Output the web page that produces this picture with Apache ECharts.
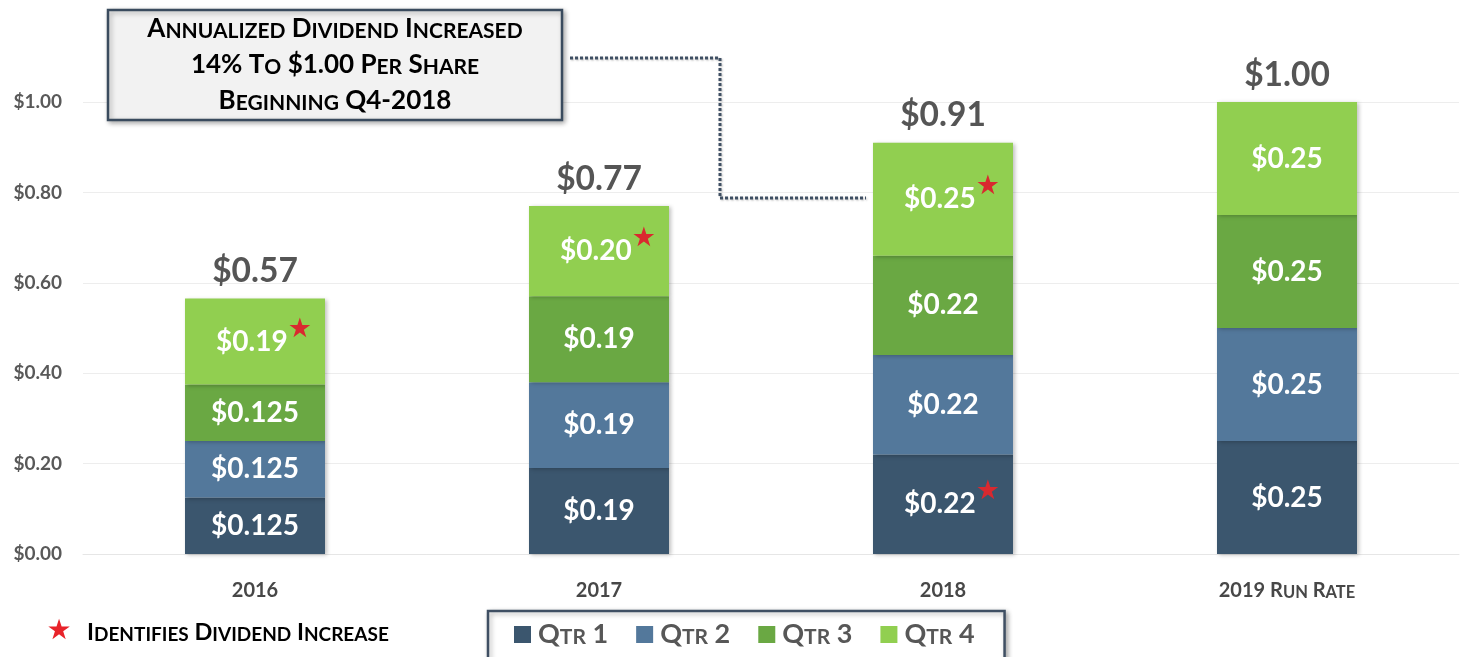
<!DOCTYPE html>
<html>
<head>
<meta charset="utf-8">
<script src="https://cdn.jsdelivr.net/npm/echarts@6/dist/echarts.min.js"></script>
<style>
html,body{margin:0;padding:0;background:#fff;}
#c{width:1468px;height:657px;}
</style>
</head>
<body>
<div id="c"></div>
<script>
var categories = ['2016', '2017', '2018', '2019 Run Rate'];
var qtr1 = [0.125, 0.19, 0.22, 0.25];
var qtr2 = [0.125, 0.19, 0.22, 0.25];
var qtr3 = [0.125, 0.19, 0.22, 0.25];
var qtr4 = [0.19, 0.20, 0.25, 0.25];
var totalLabels = ['$0.57', '$0.77', '$0.91', '$1.00'];
// 1 = quarter where dividend increased (red star)
var star1 = [0, 0, 1, 0];
var star2 = [0, 0, 0, 0];
var star3 = [0, 0, 0, 0];
var star4 = [1, 1, 1, 0];
var seriesNames = ['Qtr 1', 'Qtr 2', 'Qtr 3', 'Qtr 4'];
var yTicks = [0, 0.2, 0.4, 0.6, 0.8, 1.0];
var calloutLines = ['Annualized Dividend Increased', '14% To $1.00 Per Share', 'Beginning Q4-2018'];
var footnote = 'Identifies Dividend Increase';

var colors = ['#3b566e', '#53789b', '#6aa843', '#91cf50'];
var FONT = 'Lato, "Open Sans", sans-serif';

// small-caps: uppercase/digits/symbols in big style, lowercase as small uppercase
function smallCaps(str, big, small) {
  var out = '', cur = null, buf = '';
  for (var i = 0; i < str.length; i++) {
    var ch = str[i];
    var isLower = ch !== ch.toUpperCase();
    var st = isLower ? small : big;
    if (st !== cur) {
      if (buf) out += '{' + cur + '|' + buf + '}';
      buf = ''; cur = st;
    }
    buf += ch.toUpperCase();
  }
  if (buf) out += '{' + cur + '|' + buf + '}';
  return out;
}

function fmtVal(v) {
  var s = v.toFixed(3);
  if (s[s.length - 1] === '0') s = v.toFixed(2);
  return '$' + s;
}

var valueRich = {
  sp: { width: 18, fontSize: 28 },
  v: { color: '#ffffff', fontSize: 28, fontWeight: 'bold', fontFamily: FONT },
  s: { color: '#d9292f', fontSize: 27, fontFamily: 'DejaVu Sans', padding: [0, 0, 24, 0] }
};

function makeSeries(name, data, stars, idx) {
  return {
    name: name,
    type: 'bar',
    stack: 'div',
    barWidth: '40.7%',
    data: data,
    itemStyle: {
      color: colors[idx],
      shadowBlur: 4,
      shadowOffsetX: 2,
      shadowOffsetY: 1,
      shadowColor: 'rgba(0,0,0,0.25)'
    },
    label: {
      show: true,
      position: 'inside',
      formatter: function (p) {
        var t = '{v|' + fmtVal(p.value) + '}';
        if (stars[p.dataIndex]) t = '{sp|}' + t + '{s|★}';
        return t;
      },
      rich: valueRich
    },
    emphasis: { disabled: true }
  };
}

var series = [
  makeSeries(seriesNames[0], qtr1, star1, 0),
  makeSeries(seriesNames[1], qtr2, star2, 1),
  makeSeries(seriesNames[2], qtr3, star3, 2),
  makeSeries(seriesNames[3], qtr4, star4, 3),
  {
    name: 'Total',
    type: 'bar',
    stack: 'div',
    barWidth: '40.7%',
    data: categories.map(function () { return 0; }),
    itemStyle: { color: 'transparent' },
    label: {
      show: true,
      position: 'top',
      distance: 10,
      formatter: function (p) { return totalLabels[p.dataIndex]; },
      color: '#555555',
      fontSize: 33.5,
      fontWeight: 'bold',
      fontFamily: FONT
    },
    emphasis: { disabled: true }
  }
];

var capRich = function (bigSize, smallSize, color) {
  return {
    B: { fontSize: bigSize, fontWeight: 'bold', color: color, fontFamily: FONT, verticalAlign: 'bottom' },
    S: { fontSize: smallSize, fontWeight: 'bold', color: color, fontFamily: FONT, verticalAlign: 'bottom' }
  };
};

var calloutText = calloutLines.map(function (l) { return smallCaps(l, 'B', 'S'); }).join('\n');
var cr = capRich(26, 21, '#5a5a5a');
cr.B.lineHeight = 36; cr.S.lineHeight = 36;

var chart = echarts.init(document.getElementById('c'), null, { renderer: 'canvas' });
chart.setOption({
  animation: false,
  backgroundColor: '#ffffff',
  grid: { left: 83, right: 9, top: 102, bottom: 103, containLabel: false },
  xAxis: {
    type: 'category',
    data: categories,
    axisLine: { show: true, lineStyle: { color: '#e6e6e6', width: 1 } },
    axisTick: { show: false },
    axisLabel: {
      margin: 27,
      formatter: function (v) { return smallCaps(v, 'B', 'S'); },
      rich: capRich(20, 16.5, '#474747')
    }
  },
  yAxis: {
    type: 'value',
    min: yTicks[0],
    max: yTicks[yTicks.length - 1],
    interval: 0.2,
    axisLine: { show: false },
    axisTick: { show: false },
    splitLine: { show: true, lineStyle: { color: '#ededed', width: 1 } },
    axisLabel: {
      margin: 21,
      formatter: function (v) { return '$' + v.toFixed(2); },
      color: '#595959',
      fontSize: 19,
      fontWeight: 'bold',
      fontFamily: FONT
    }
  },
  legend: {
    data: seriesNames,
    left: 488,
    top: 611,
    width: 540,
    padding: [10, 30, 30, 26],
    itemWidth: 17,
    itemHeight: 17,
    itemGap: 28,
    icon: 'rect',
    backgroundColor: '#ffffff',
    borderColor: '#3f4f63',
    borderWidth: 2.5,
    shadowBlur: 5,
    shadowOffsetX: 2,
    shadowOffsetY: 2,
    shadowColor: 'rgba(0,0,0,0.3)',
    formatter: function (n) { return smallCaps(n, 'B', 'S'); },
    textStyle: {
      rich: capRich(27, 21, '#575757'),
      padding: [0, 0, 0, 2]
    },
    selectedMode: false
  },
  graphic: [
    {
      type: 'polyline',
      shape: { points: [[570, 58], [720, 58], [720, 198], [866, 198]] },
      style: { stroke: '#3f4f63', lineWidth: 3, lineDash: [3, 2], fill: null,
               shadowBlur: 2, shadowColor: 'rgba(0,0,0,0.25)', shadowOffsetX: 1, shadowOffsetY: 1 },
      z: 10
    },
    {
      type: 'rect',
      shape: { x: 108, y: 10, width: 454, height: 110 },
      style: { fill: '#f2f2f2', stroke: '#3a4b5e', lineWidth: 2.5,
               shadowBlur: 5, shadowOffsetX: 2, shadowOffsetY: 2, shadowColor: 'rgba(0,0,0,0.3)' },
      z: 10
    },
    {
      type: 'text',
      x: 335, y: 60,
      style: {
        text: calloutText,
        rich: cr,
        align: 'center',
        verticalAlign: 'middle'
      },
      z: 11
    },
    {
      type: 'text',
      x: 59, y: 632,
      style: { text: '★', fill: '#e8232a', fontSize: 28, fontFamily: 'DejaVu Sans', align: 'center', verticalAlign: 'middle' },
      z: 11
    },
    {
      type: 'text',
      x: 87, y: 632,
      style: {
        text: smallCaps(footnote, 'B', 'S'),
        rich: capRich(23.5, 19, '#595959'),
        align: 'left',
        verticalAlign: 'middle'
      },
      z: 11
    }
  ],
  series: series
});
</script>
</body>
</html>
